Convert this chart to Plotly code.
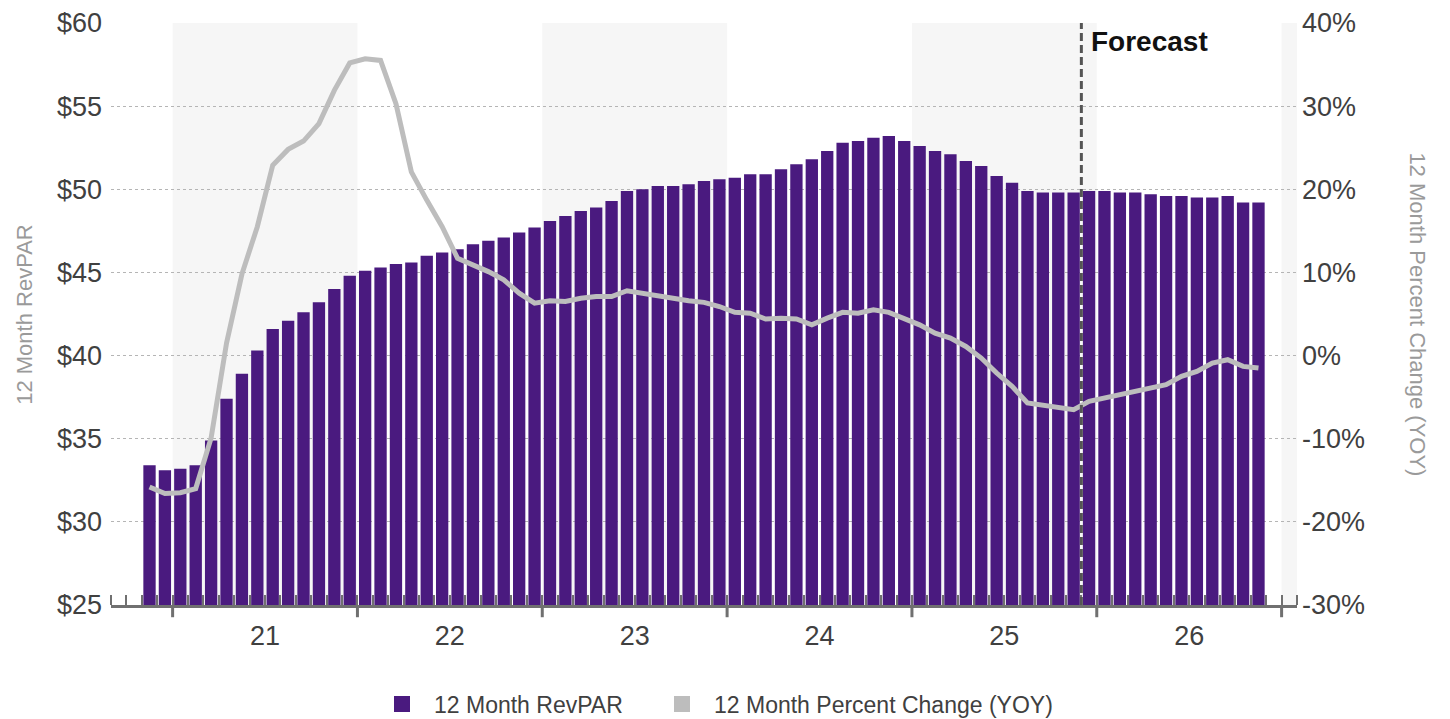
import plotly.graph_objects as go

# ---------------- data ----------------
month_names = ["Jan", "Feb", "Mar", "Apr", "May", "Jun",
               "Jul", "Aug", "Sep", "Oct", "Nov", "Dec"]
# Nov 2020 .. Nov 2026 (73 months)
months = [f"{month_names[(10 + i) % 12]} {2020 + (10 + i) // 12}" for i in range(73)]

revpar = [
    33.4, 33.1, 33.2, 33.4, 34.9, 37.4, 38.9, 40.3, 41.6, 42.1, 42.6, 43.2,
    44.0, 44.8, 45.1, 45.3, 45.5, 45.6, 46.0, 46.2, 46.4, 46.7, 46.9, 47.1,
    47.4, 47.7, 48.1, 48.4, 48.7, 48.9, 49.3, 49.9, 50.0, 50.2, 50.2, 50.3,
    50.5, 50.6, 50.7, 50.9, 50.9, 51.2, 51.5, 51.8, 52.3, 52.8, 52.9, 53.1,
    53.2, 52.9, 52.6, 52.3, 52.1, 51.7, 51.4, 50.8, 50.4, 49.9, 49.8, 49.8,
    49.8, 49.9, 49.9, 49.8, 49.8, 49.7, 49.6, 49.6, 49.5, 49.5, 49.6, 49.2,
    49.2,
]

pct_change = [
    -15.8, -16.6, -16.5, -16.0, -9.9, 1.5, 9.8, 15.5, 22.9, 24.8, 25.8, 27.9,
    31.9, 35.2, 35.7, 35.5, 30.3, 22.1, 18.7, 15.5, 11.7, 10.9, 10.1, 9.1,
    7.5, 6.3, 6.6, 6.5, 6.9, 7.1, 7.1, 7.8, 7.5, 7.2, 6.8, 6.6,
    6.4, 5.9, 5.2, 5.1, 4.4, 4.5, 4.4, 3.7, 4.5, 5.2, 5.1, 5.5,
    5.2, 4.5, 3.7, 2.7, 2.1, 1.1, -0.3, -2.1, -3.7, -5.7, -6.0, -6.3,
    -6.5, -5.5, -5.1, -4.7, -4.3, -3.9, -3.5, -2.5, -1.9, -0.9, -0.5, -1.3,
    -1.5,
]

year_labels = ["21", "22", "23", "24", "25", "26"]
left_ticks = [25, 30, 35, 40, 45, 50, 55, 60]
left_ticktext = ["$25", "$30", "$35", "$40", "$45", "$50", "$55", "$60"]
right_ticks = [-30, -20, -10, 0, 10, 20, 30, 40]
right_ticktext = ["-30%", "-20%", "-10%", "0%", "10%", "20%", "30%", "40%"]
forecast_start = "Dec 2025"

series_names = ["12 Month RevPAR", "12 Month Percent Change (YOY)"]
left_title = "12 Month RevPAR"
right_title = "12 Month Percent Change (YOY)"

# ---------------- styling ----------------
FONT = "Liberation Sans, Arial, sans-serif"
BAR_COLOR = "#4A1A7F"
LINE_COLOR = "#BDBDBD"
AXIS_COLOR = "#707070"
TICK_FONT = dict(family=FONT, size=27, color="#404040")
TITLE_FONT = dict(family=FONT, size=22, color="#9A9A9A")

x = list(range(len(revpar)))
jan_idx = [i for i, m in enumerate(months) if m.startswith("Jan")]
year_bounds = [j - 0.5 for j in jan_idx] + [jan_idx[-1] + 11.5]
year_mids = [b + 6 for b in year_bounds[:-1]]
x_range = [-2.5, len(revpar) + 1.5]
month_bounds = [v - 0.5 for v in range(-2, len(revpar) + 3)]
forecast_x = months.index(forecast_start) - 0.5

fig = go.Figure()

fig.add_trace(go.Bar(
    x=x, y=revpar, name=series_names[0], showlegend=False,
    marker=dict(color=BAR_COLOR, line=dict(width=0)),
    customdata=months,
    hovertemplate="%{customdata}<br>$%{y:.2f}<extra></extra>",
))

fig.add_trace(go.Scatter(
    x=x, y=pct_change, yaxis="y2", mode="lines",
    line=dict(color=LINE_COLOR, width=5),
    name=series_names[1], showlegend=False,
    customdata=months,
    hovertemplate="%{customdata}<br>%{y:.1f}%<extra></extra>",
))

# legend entries with square symbols
for nm, col, ax, lw in [(series_names[0], BAR_COLOR, "y", 211),
                        (series_names[1], LINE_COLOR, "y2", 380)]:
    fig.add_trace(go.Scatter(
        x=[None], y=[None], yaxis=ax, mode="markers",
        marker=dict(symbol="square", size=20, color=col, line=dict(width=0)),
        name=nm, showlegend=True, hoverinfo="skip", legendwidth=lw,
    ))

shapes = []
# alternating year shading
for k, b in enumerate(year_bounds):
    if k % 2 == 0:
        shapes.append(dict(
            type="rect", xref="x", yref="paper",
            x0=b, x1=min(b + 12, x_range[1]), y0=0, y1=1,
            fillcolor="#F6F6F6", line=dict(width=0), layer="below",
        ))
# year boundary ticks (down from axis)
for b in year_bounds:
    shapes.append(dict(
        type="line", xref="x", yref="paper",
        x0=b, x1=b, y0=0, y1=-0.021,
        line=dict(color=AXIS_COLOR, width=3), layer="above",
    ))
# forecast divider
shapes.append(dict(
    type="line", xref="x", yref="paper",
    x0=forecast_x, x1=forecast_x, y0=0, y1=1,
    line=dict(color="#555555", width=3, dash="8px,4px"), layer="above",
))

annotations = [
    dict(text="<b>Forecast</b>", xref="x", yref="paper",
         x=forecast_x, y=1, xanchor="left", yanchor="top",
         xshift=8, yshift=-1, showarrow=False,
         font=dict(family=FONT, size=28, color="#111111")),
    dict(text=left_title, xref="paper", yref="paper",
         x=-0.0735, y=0.5, xanchor="center", yanchor="middle",
         textangle=-90, showarrow=False, font=TITLE_FONT),
    dict(text=right_title, xref="paper", yref="paper",
         x=1.1017, y=0.5, xanchor="center", yanchor="middle",
         textangle=90, showarrow=False, font=TITLE_FONT),
]

fig.update_layout(
    width=1450, height=719,
    margin=dict(l=111, r=153, t=23, b=114, autoexpand=False),
    paper_bgcolor="white", plot_bgcolor="white",
    bargap=0.2, barmode="overlay",
    font=dict(family=FONT, color="#404040"),
    xaxis=dict(
        range=x_range, automargin=False,
        tickmode="array", tickvals=year_mids, ticktext=year_labels,
        ticks="", tickfont=TICK_FONT, ticklabelstandoff=5,
        showgrid=False, zeroline=False,
        showline=True, linecolor=AXIS_COLOR, linewidth=3,
        minor=dict(tickmode="array", tickvals=month_bounds, ticks="inside",
                   ticklen=10, tickwidth=2, tickcolor=AXIS_COLOR, showgrid=False),
        fixedrange=True,
    ),
    yaxis=dict(
        range=[25, 60], automargin=False,
        tickmode="array", tickvals=left_ticks, ticktext=left_ticktext,
        tickfont=TICK_FONT, ticklabelstandoff=8,
        showgrid=True, gridcolor="#B5B5B5", griddash="dot", gridwidth=1,
        zeroline=False, showline=False, ticks="",
    ),
    yaxis2=dict(
        range=[-30, 40], overlaying="y", side="right", automargin=False,
        tickmode="array", tickvals=right_ticks, ticktext=right_ticktext,
        tickfont=TICK_FONT, ticklabelstandoff=4,
        showgrid=False, zeroline=False, showline=False, ticks="",
    ),
    legend=dict(
        orientation="h", xref="container", yref="container",
        x=370 / 1450, y=1 - 704 / 719, xanchor="left", yanchor="middle",
        font=dict(family=FONT, size=23, color="#404040"),
        itemwidth=54, traceorder="normal",
        bgcolor="rgba(0,0,0,0)",
    ),
    shapes=shapes,
    annotations=annotations,
    showlegend=True,
)

fig.write_html(
    "out.html",
    config={"displayModeBar": False},
    post_script="document.body.style.margin='0';document.body.style.overflow='hidden';",
)
